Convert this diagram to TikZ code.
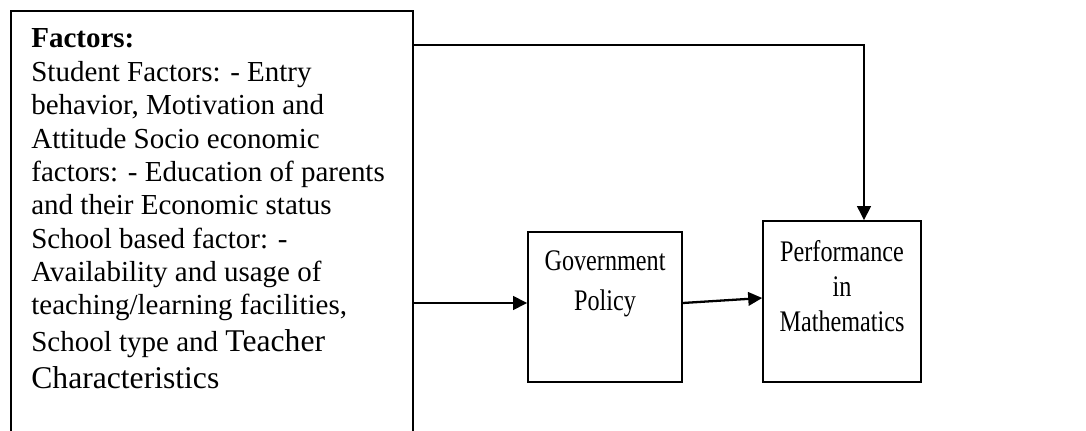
\documentclass[tikz,border=0pt]{standalone}
\usepackage{fontspec}
\setmainfont{Liberation Serif}
\newfontfamily\narrowfont[FakeStretch=0.81]{Liberation Serif}
\usetikzlibrary{arrows.meta,positioning}

\begin{document}
\begin{tikzpicture}[
	box/.style={draw, line width=0.9pt, inner sep=0pt},
	arr/.style={-{Triangle[length=0.28cm,width=0.27cm]}, line width=1.3pt},
	boxtext/.style={align=center, inner sep=0pt, font=\narrowfont\fontsize{17}{#1}\selectfont}]
	\useasboundingbox (0,0) rectangle (21.72,8.6);
	\clip (0,0) rectangle (21.72,8.6);
	
	\node[box, anchor=north west, minimum width=8.04cm, minimum height=9cm] (factors) at (0.2,8.4) {};
	\node[anchor=north west, align=left, inner sep=0pt, font=\fontsize{16.5}{19}\selectfont] (factorstext) at (0.62,8.03) {\textbf{Factors:}\\
		Student Factors: - Entry\\
		behavior, Motivation and\\
		Attitude Socio economic\\
		factors: - Education of parents\\
		and their Economic status\\
		School based factor: -\\
		Availability and usage of\\
		teaching/learning facilities,\\[2pt]
		School type and {\fontsize{18}{21}\selectfont Teacher}\\[2pt]
		{\fontsize{18}{21}\selectfont Characteristics}};
	
	\node[box, minimum width=3.08cm, minimum height=3cm] (gov) at (12.1,2.46) {};
	\node[boxtext=22.7pt, below=0.38cm of gov.north] (govtext) {Government\\Policy};
	
	\node[box, minimum width=3.16cm, minimum height=3.22cm] (perf) at (16.84,2.57) {};
	\node[boxtext=19.9pt, below=0.4cm of perf.north] (perftext) {Performance\\in\\Mathematics};
	
	\coordinate (govin) at ([yshift=0.08cm]gov.west);
	\draw[arr] (factors.east |- govin) -- (govin);
	\draw[arr] ([yshift=0.08cm]gov.east) -- ([yshift=0.07cm]perf.west);
	\coordinate (bend) at (17.28,7.7);
	\draw[arr] (factors.east |- bend) -- (bend) -- (bend |- perf.north);
\end{tikzpicture}
\end{document}
